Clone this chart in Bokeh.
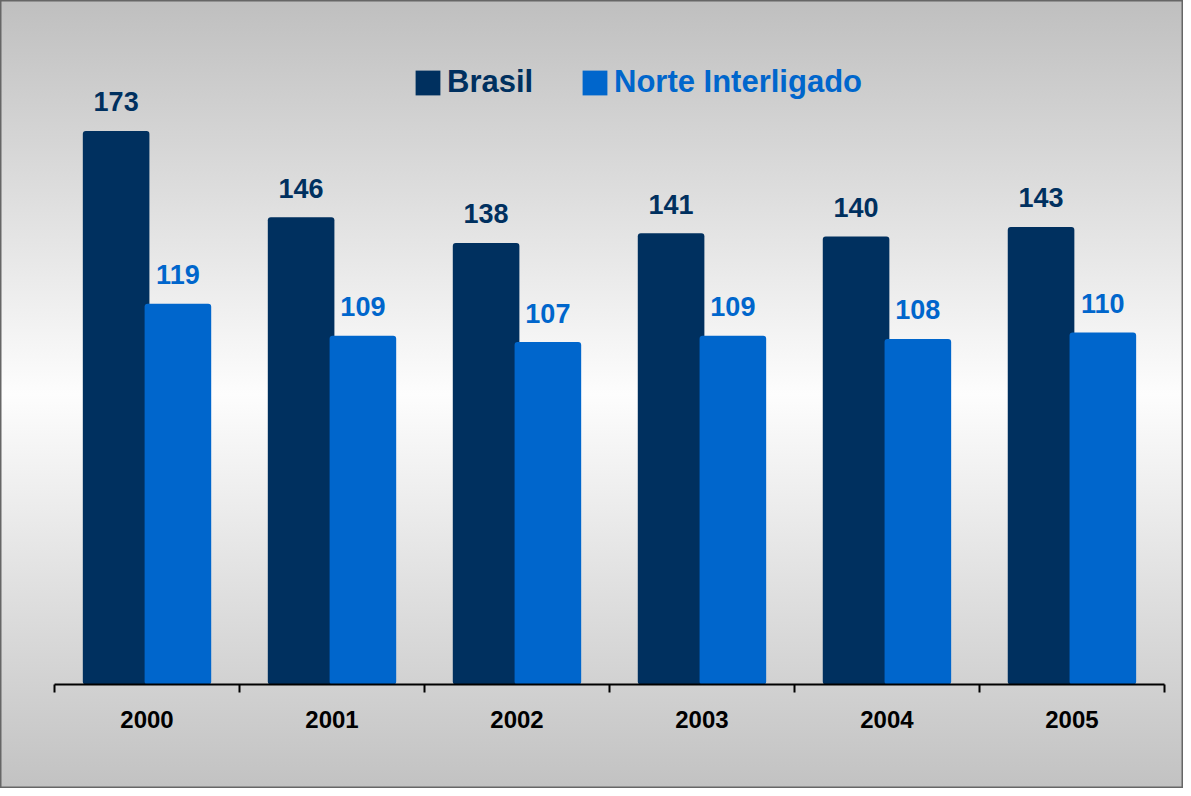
from bokeh.plotting import figure
from bokeh.models import Range1d, LinearAxis, FixedTicker, Legend, LegendItem, ColumnDataSource
from bokeh.core.properties import value
from bokeh.embed import file_html
from bokeh.resources import INLINE

# ---- data ----
years = ["2000", "2001", "2002", "2003", "2004", "2005"]
brasil = [173, 146, 138, 141, 140, 143]
norte = [119, 109, 107, 109, 108, 110]
series_names = ["Brasil", "Norte Interligado"]

NAVY = "#00305f"
BLUE = "#0066cc"
FONT = "Liberation Sans"

W, H = 1183, 788
idx = list(range(len(years)))
OFF = 0.167
BW = 0.36

src = ColumnDataSource(dict(
    year=years,
    xb=[i + 0.5 - OFF for i in idx],
    xn=[i + 0.5 + OFF for i in idx],
    brasil=brasil,
    norte=norte,
    lb=[str(v) for v in brasil],
    ln=[str(v) for v in norte],
))

p = figure(width=W, height=H,
           x_range=Range1d(-0.292, 6.103), y_range=Range1d(-32.5, 213.75),
           output_backend="svg", toolbar_location=None, min_border=0,
           x_axis_type=None, y_axis_type=None)
p.grid.visible = False
p.background_fill_alpha = 0
p.border_fill_alpha = 0
p.outline_line_color = "#666666"
p.outline_line_width = 2
p.styles = {"background": "linear-gradient(to bottom, #bfbfbf 0%, #fdfdfd 50%, #c2c2c2 100%)"}

rb = p.vbar(x="xb", top="brasil", bottom=0, width=BW, source=src,
            fill_color=NAVY, line_color=None, border_radius=3)
rn = p.vbar(x="xn", top="norte", bottom=0, width=BW, source=src,
            fill_color=BLUE, line_color=None, border_radius=3)

p.text(x="xb", y="brasil", text="lb", source=src, text_font=value(FONT),
       text_font_style="bold", text_font_size="27px", text_color=NAVY,
       text_align="center", text_baseline="alphabetic", y_offset=-29)
p.text(x="xn", y="norte", text="ln", source=src, text_font=value(FONT),
       text_font_style="bold", text_font_size="27px", text_color=BLUE,
       text_align="center", text_baseline="alphabetic", y_offset=-29)

ax = LinearAxis(fixed_location=0, bounds=(0, len(years)),
                ticker=FixedTicker(ticks=[i + 0.5 for i in idx],
                                   minor_ticks=list(range(len(years) + 1))),
                major_label_overrides={i + 0.5: y for i, y in zip(idx, years)})
ax.axis_line_color = "black"
ax.axis_line_width = 2
ax.major_tick_out = 0
ax.major_tick_in = 0
ax.minor_tick_out = 8
ax.minor_tick_in = 0
ax.minor_tick_line_color = "black"
ax.minor_tick_line_width = 2
ax.major_label_text_font = FONT
ax.major_label_text_font_style = "bold"
ax.major_label_text_font_size = "24px"
ax.major_label_text_color = "black"
ax.major_label_standoff = 18
p.add_layout(ax, "below")

for name, r, col, loc in [(series_names[0], rb, NAVY, (412, 688)),
                          (series_names[1], rn, BLUE, (579, 688))]:
    lg = Legend(items=[LegendItem(label=name, renderers=[r])], location=loc,
                orientation="horizontal", padding=0, margin=0, spacing=0,
                border_line_color=None, background_fill_alpha=0,
                glyph_width=31, glyph_height=31, label_standoff=4,
                label_text_font=FONT, label_text_font_style="bold",
                label_text_font_size="31px", label_text_color=col)
    p.add_layout(lg)

open("out.html", "w").write(file_html(p, INLINE))
